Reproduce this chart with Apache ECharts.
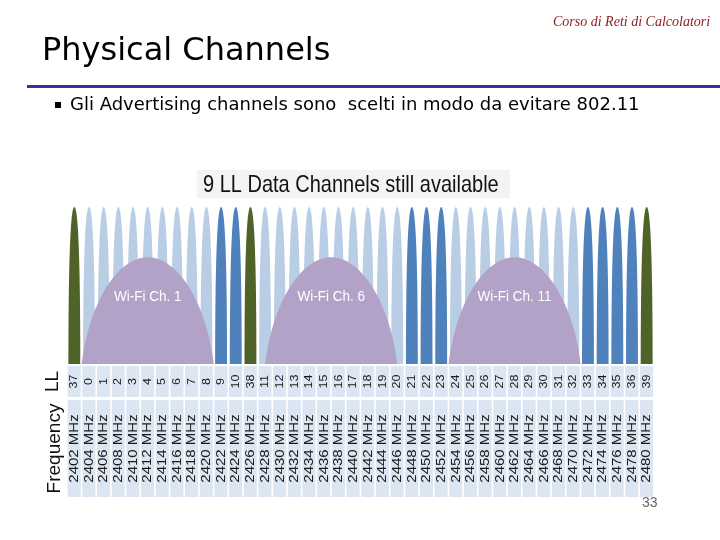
<!DOCTYPE html>
<html><head><meta charset="utf-8">
<script src="https://cdn.jsdelivr.net/npm/echarts@6/dist/echarts.min.js"></script>
<style>html,body{margin:0;padding:0;background:#fff}#c{width:720px;height:540px}</style>
</head><body><div id="c"></div>
<script>
// ---- data ----
const llChannels = [37,0,1,2,3,4,5,6,7,8,9,10,38,11,12,13,14,15,16,17,18,19,20,21,22,23,24,25,26,27,28,29,30,31,32,33,34,35,36,39];
const frequencies = [2402,2404,2406,2408,2410,2412,2414,2416,2418,2420,2422,2424,2426,2428,2430,2432,2434,2436,2438,2440,2442,2444,2446,2448,2450,2452,2454,2456,2458,2460,2462,2464,2466,2468,2470,2472,2474,2476,2478,2480];
const channelLevels = [100,100,100,100,100,100,100,100,100,100,100,100,100,100,100,100,100,100,100,100,100,100,100,100,100,100,100,100,100,100,100,100,100,100,100,100,100,100,100,100];
const advertisingChannels = [37,38,39];
const availableDataChannels = [9,10,21,22,23,33,34,35,36];
const wifiNames = ['Wi-Fi Ch. 1','Wi-Fi Ch. 6','Wi-Fi Ch. 11'];
const wifiCenters = [2412,2437,2462];
const wifiSpans = [18,18,18];
const wifiLevels = [68,68,68];
const rowNames = ['LL','Frequency'];
const chartTitle = '9 LL Data Channels still available';

// ---- styles ----
const COL_ADV = '#4f6228', COL_FREE = '#4f81bd', COL_BUSY = '#b9cde5', COL_WIFI = '#b3a2c7', COL_CELL = '#dce6f2';
const SPIKE_W = 1.62;
const SANS = "'Liberation Sans',Arial,sans-serif";

function spikeType(ch){ return advertisingChannels.includes(ch) ? 0 : (availableDataChannels.includes(ch) ? 1 : 2); }
const spikeData = frequencies.map((f,i)=>[f, channelLevels[i], spikeType(llChannels[i])]);

function renderSpike(params, api){
  const f = api.value(0), lv = api.value(1), t = api.value(2);
  const pl = api.coord([f - SPIKE_W/2, 0]), pt = api.coord([f, lv]), pr = api.coord([f + SPIKE_W/2, 0]);
  const w = pr[0]-pl[0], h = pl[1]-pt[1], xc = pt[0], yt = pt[1], yb = pl[1];
  const d = `M${pl[0]},${yb} C${pl[0]},${yb-0.7*h} ${xc-0.3*w},${yt} ${xc},${yt} C${xc+0.3*w},${yt} ${pr[0]},${yb-0.7*h} ${pr[0]},${yb} Z`;
  return {type:'path', shape:{pathData:d}, style:{fill:[COL_ADV,COL_FREE,COL_BUSY][t]}};
}
function renderWifi(params, api){
  const c = api.value(0), span = api.value(1), lv = api.value(2), idx = api.value(3);
  const pl = api.coord([c - span/2, 0]), pt = api.coord([c, lv]), pr = api.coord([c + span/2, 0]);
  const W = pr[0]-pl[0], H = pl[1]-pt[1], yb = pl[1], yt = pt[1], xc = pt[0];
  const d = `M${pl[0]},${yb} C${pl[0]+0.06*W},${yb-0.6*H} ${pl[0]+0.28*W},${yt} ${xc},${yt} C${pr[0]-0.28*W},${yt} ${pr[0]-0.06*W},${yb-0.6*H} ${pr[0]},${yb} Z`;
  const lp = api.coord([c, lv*0.63]);
  return {type:'group', children:[
    {type:'path', shape:{pathData:d}, style:{fill:COL_WIFI}},
    {type:'text', x:lp[0], y:lp[1], scaleY:1.1, style:{text:wifiNames[idx], fill:'#fff', font:'13.5px '+SANS, align:'center', verticalAlign:'middle'}}
  ]};
}
function makeCellRenderer(getText, fontSize){
  return function(params, api){
    const i = api.value(0);
    const p = api.coord([i, 0]), s = api.size([1, 1]);
    return {type:'group', children:[
      {type:'rect', shape:{x:p[0]-s[0]/2+0.6, y:p[1]-s[1]/2, width:s[0]-1.5, height:s[1]}, style:{fill:COL_CELL}},
      {type:'text', x:p[0], y:p[1], rotation:Math.PI/2, scaleY:0.9, style:{text:getText(i), fill:'#1a1a1a', font:fontSize+'px '+SANS, align:'center', verticalAlign:'middle'}}
    ]};
  };
}

const chart = echarts.init(document.getElementById('c'));
const rowAxisLabel = {rotate:90, fontSize:19, color:'#111', fontFamily:SANS};
chart.setOption({
  backgroundColor:'#fff',
  animation:false,
  grid:[
    {left:67, right:66, top:207, height:157},
    {left:67, right:66, top:366, height:31},
    {left:67, right:66, top:400, height:97}
  ],
  xAxis:[
    {type:'value', gridIndex:0, min:2401, max:2481, show:false},
    {type:'category', gridIndex:1, data:llChannels.map(String), show:false},
    {type:'category', gridIndex:2, data:frequencies.map(f=>f+' MHz'), show:false}
  ],
  yAxis:[
    {type:'value', gridIndex:0, min:0, max:100, show:false},
    {type:'category', gridIndex:1, data:[rowNames[0]], axisLine:{show:false}, axisTick:{show:false}, axisLabel:Object.assign({margin:5}, rowAxisLabel)},
    {type:'category', gridIndex:2, data:[rowNames[1]], axisLine:{show:false}, axisTick:{show:false}, axisLabel:Object.assign({margin:3}, rowAxisLabel)}
  ],
  series:[
    {type:'custom', xAxisIndex:0, yAxisIndex:0, data:spikeData, renderItem:renderSpike, z:2},
    {type:'custom', xAxisIndex:0, yAxisIndex:0, data:wifiCenters.map((c,i)=>[c, wifiSpans[i], wifiLevels[i], i]), renderItem:renderWifi, z:3},
    {type:'custom', xAxisIndex:1, yAxisIndex:1, data:llChannels.map((ch,i)=>[i,0]), renderItem:makeCellRenderer(i=>String(llChannels[i]), 12.5)},
    {type:'custom', xAxisIndex:2, yAxisIndex:2, data:frequencies.map((f,i)=>[i,0]), renderItem:makeCellRenderer(i=>frequencies[i]+' MHz', 15)}
  ],
  graphic:[
    {type:'rect', shape:{x:197, y:170, width:313, height:28}, style:{fill:'#f4f4f4'}},
    {type:'text', x:203, y:185, scaleY:1.2, style:{text:chartTitle, fill:'#111', font:'20px '+SANS, verticalAlign:'middle'}},
    {type:'text', x:553, y:22, style:{text:'Corso di Reti di Calcolatori', fill:'#8b1a1a', font:'italic 14px "Liberation Serif",serif', verticalAlign:'middle'}},
    {type:'text', x:42, y:52, style:{text:'Physical Channels', fill:'#000', font:'32px "DejaVu Sans",sans-serif', verticalAlign:'middle'}},
    {type:'rect', shape:{x:27, y:85, width:693, height:3}, style:{fill:'#333399'}},
    {type:'rect', shape:{x:55, y:102, width:6, height:6}, style:{fill:'#000'}},
    {type:'text', x:70, y:105, style:{text:'Gli Advertising channels sono  scelti in modo da evitare 802.11', fill:'#000', font:'18px "DejaVu Sans",sans-serif', verticalAlign:'middle'}},
    {type:'text', x:642, y:503, style:{text:'33', fill:'#666', font:'14px '+SANS, verticalAlign:'middle'}}
  ]
});
</script></body></html>
